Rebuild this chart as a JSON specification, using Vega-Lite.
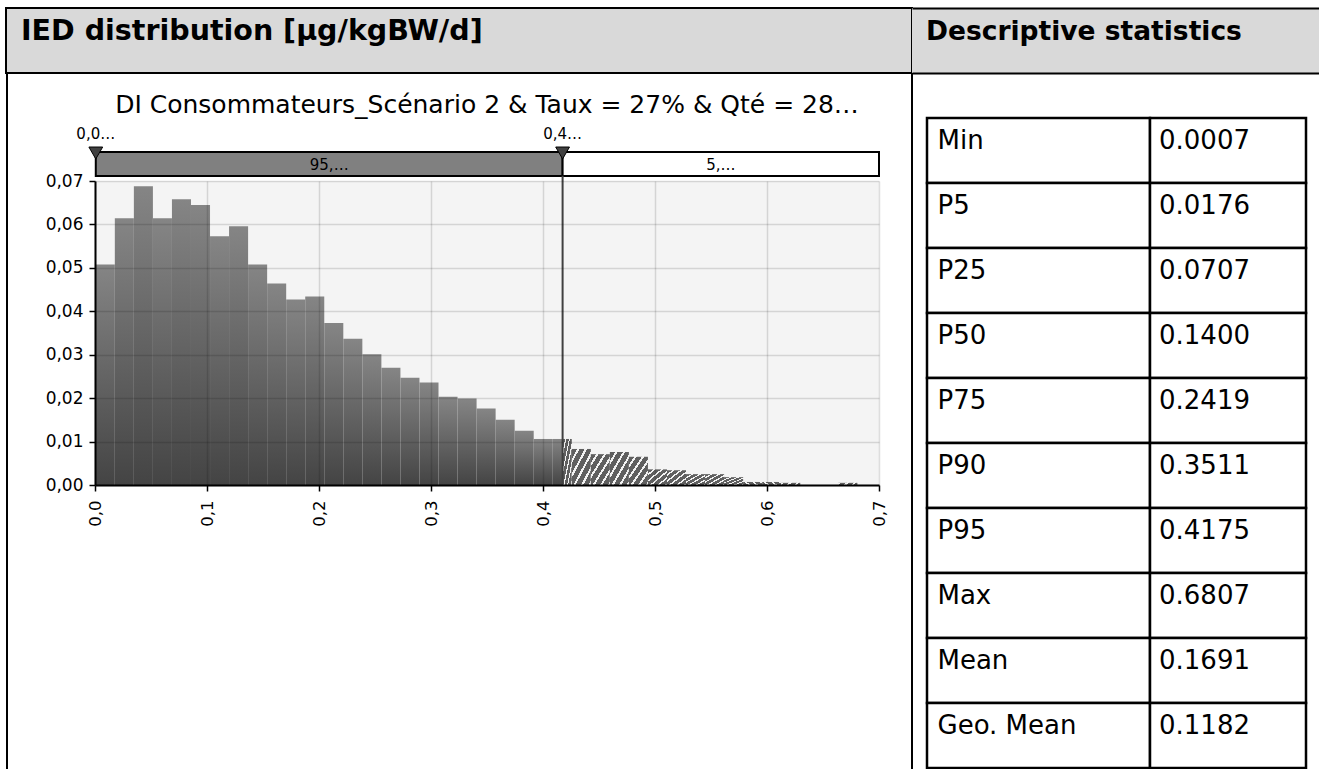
{
  "$schema": "https://vega.github.io/schema/vega-lite/v6.json",
  "padding": {"left": 5, "top": 7, "right": 0, "bottom": 0},
  "background": "white",
  "bounds": "flush",
  "spacing": 0,
  "config": {
    "font": "DejaVu Sans",
    "view": {"stroke": null},
    "concat": {"spacing": 0},
    "text": {"font": "DejaVu Sans", "color": "black"},
    "title": {"font": "DejaVu Sans"}
  },
  "datasets": {
    "bins": [
      {"x0": 0.0007, "x1": 0.0177, "freq": 0.0508, "part": "in"},
      {"x0": 0.0177, "x1": 0.0347, "freq": 0.0614, "part": "in"},
      {"x0": 0.0347, "x1": 0.0517, "freq": 0.0688, "part": "in"},
      {"x0": 0.0517, "x1": 0.0687, "freq": 0.0614, "part": "in"},
      {"x0": 0.0687, "x1": 0.0857, "freq": 0.0658, "part": "in"},
      {"x0": 0.0857, "x1": 0.1027, "freq": 0.0645, "part": "in"},
      {"x0": 0.1027, "x1": 0.1197, "freq": 0.0573, "part": "in"},
      {"x0": 0.1197, "x1": 0.1367, "freq": 0.0596, "part": "in"},
      {"x0": 0.1367, "x1": 0.1537, "freq": 0.0508, "part": "in"},
      {"x0": 0.1537, "x1": 0.1707, "freq": 0.0464, "part": "in"},
      {"x0": 0.1707, "x1": 0.1877, "freq": 0.0427, "part": "in"},
      {"x0": 0.1877, "x1": 0.2047, "freq": 0.0434, "part": "in"},
      {"x0": 0.2047, "x1": 0.2217, "freq": 0.0373, "part": "in"},
      {"x0": 0.2217, "x1": 0.2387, "freq": 0.0337, "part": "in"},
      {"x0": 0.2387, "x1": 0.2557, "freq": 0.0301, "part": "in"},
      {"x0": 0.2557, "x1": 0.2727, "freq": 0.0270, "part": "in"},
      {"x0": 0.2727, "x1": 0.2897, "freq": 0.0247, "part": "in"},
      {"x0": 0.2897, "x1": 0.3067, "freq": 0.0236, "part": "in"},
      {"x0": 0.3067, "x1": 0.3237, "freq": 0.0203, "part": "in"},
      {"x0": 0.3237, "x1": 0.3407, "freq": 0.0199, "part": "in"},
      {"x0": 0.3407, "x1": 0.3577, "freq": 0.0176, "part": "in"},
      {"x0": 0.3577, "x1": 0.3747, "freq": 0.0150, "part": "in"},
      {"x0": 0.3747, "x1": 0.3917, "freq": 0.0125, "part": "in"},
      {"x0": 0.3917, "x1": 0.4087, "freq": 0.0106, "part": "in"},
      {"x0": 0.4087, "x1": 0.4175, "freq": 0.0106, "part": "in"},
      {"x0": 0.4175, "x1": 0.4257, "freq": 0.0106, "part": "out"},
      {"x0": 0.4257, "x1": 0.4427, "freq": 0.0083, "part": "out"},
      {"x0": 0.4427, "x1": 0.4597, "freq": 0.0071, "part": "out"},
      {"x0": 0.4597, "x1": 0.4767, "freq": 0.0076, "part": "out"},
      {"x0": 0.4767, "x1": 0.4937, "freq": 0.0065, "part": "out"},
      {"x0": 0.4937, "x1": 0.5107, "freq": 0.0036, "part": "out"},
      {"x0": 0.5107, "x1": 0.5277, "freq": 0.0034, "part": "out"},
      {"x0": 0.5277, "x1": 0.5447, "freq": 0.0025, "part": "out"},
      {"x0": 0.5447, "x1": 0.5617, "freq": 0.0025, "part": "out"},
      {"x0": 0.5617, "x1": 0.5787, "freq": 0.0018, "part": "out"},
      {"x0": 0.5787, "x1": 0.5957, "freq": 0.0007, "part": "out"},
      {"x0": 0.5957, "x1": 0.6127, "freq": 0.0007, "part": "out"},
      {"x0": 0.6127, "x1": 0.6297, "freq": 0.0005, "part": "out"},
      {"x0": 0.6297, "x1": 0.6467, "freq": 0, "part": "out"},
      {"x0": 0.6467, "x1": 0.6637, "freq": 0, "part": "out"},
      {"x0": 0.6637, "x1": 0.6807, "freq": 0.0005, "part": "out"}
    ],
    "stats": [
      {"stat": "Min", "value": "0.0007"},
      {"stat": "P5", "value": "0.0176"},
      {"stat": "P25", "value": "0.0707"},
      {"stat": "P50", "value": "0.1400"},
      {"stat": "P75", "value": "0.2419"},
      {"stat": "P90", "value": "0.3511"},
      {"stat": "P95", "value": "0.4175"},
      {"stat": "Max", "value": "0.6807"},
      {"stat": "Mean", "value": "0.1691"},
      {"stat": "Geo. Mean", "value": "0.1182"}
    ],
    "bands": [
      {"start": 0.0007, "end": 0.4175, "lab": "95,…"},
      {"start": 0.4175, "end": 0.7, "lab": "5,…"}
    ],
    "markers": [
      {"v": 0.0007, "lab": "0,0…"},
      {"v": 0.4175, "lab": "0,4…"}
    ]
  },
  "vconcat": [
    {
      "spacing": 0,
      "bounds": "flush",
      "hconcat": [
        {
          "width": 906, "height": 65,
          "view": {"fill": "#d9d9d9", "stroke": "black", "strokeWidth": 2},
          "data": {"values": [{"h": "IED distribution [µg/kgBW/d]"}]},
          "mark": {"type": "text", "align": "left", "baseline": "alphabetic", "dx": -438, "dy": -1, "fontSize": 28.5, "fontWeight": "bold"},
          "encoding": {"text": {"field": "h"}}
        },
        {
          "width": 407, "height": 65,
          "view": {"fill": "#d9d9d9", "stroke": null},
          "data": {"values": [{"h": "Descriptive statistics"}]},
          "mark": {"type": "text", "align": "left", "baseline": "alphabetic", "dx": -189.5, "dy": -1, "fontSize": 26.5, "fontWeight": "bold"},
          "encoding": {
            "text": {"field": "h"},
            "y": {"datum": 0.5, "type": "quantitative", "scale": {"domain": [0, 1], "nice": false, "zero": false},
              "axis": {"values": [0, 1], "grid": true, "gridColor": "black", "gridWidth": 2, "gridOpacity": 1, "domain": false, "ticks": false, "labels": false, "title": null}}
          }
        }
      ]
    },
    {"width": 10, "height": 65, "data": {"values": []}, "mark": "text", "encoding": {}},
    {
      "spacing": 0,
      "bounds": "flush",
      "hconcat": [
        {"width": 2, "height": 697, "view": {"fill": "black", "stroke": null}, "data": {"values": []}, "mark": "text", "encoding": {}},
        {"width": 87, "height": 1, "data": {"values": []}, "mark": "text", "encoding": {}},
        {
          "spacing": 0,
          "bounds": "flush",
          "vconcat": [
            {"width": 784, "height": 79, "data": {"values": []}, "mark": "text", "encoding": {}},
            {
              "width": 784, "height": 24,
              "title": {"text": "DI Consommateurs_Scénario 2 & Taux = 27% & Qté = 28…", "fontSize": 25, "fontWeight": "normal", "color": "black", "anchor": "middle", "baseline": "alphabetic", "offset": -11},
              "layer": [
                {
                  "data": {"name": "bands"},
                  "mark": {"type": "rect", "stroke": "black", "strokeWidth": 2},
                  "encoding": {
                    "x": {"field": "start", "type": "quantitative", "scale": {"domain": [0, 0.7], "nice": false, "zero": false}, "axis": null},
                    "x2": {"field": "end"},
                    "color": {"field": "lab", "type": "nominal", "scale": {"domain": ["95,…", "5,…"], "range": ["#808080", "#ffffff"]}, "legend": null}
                  }
                },
                {
                  "data": {"name": "bands"},
                  "transform": [{"fold": ["start", "end"], "as": ["k", "v"]}],
                  "mark": {"type": "text", "fontSize": 15, "baseline": "middle", "dy": 1},
                  "encoding": {
                    "x": {"field": "v", "aggregate": "mean", "type": "quantitative"},
                    "text": {"field": "lab"}
                  }
                },
                {
                  "data": {"name": "markers"},
                  "mark": {"type": "point", "shape": "triangle-down", "filled": true, "color": "#404040", "stroke": "black", "strokeWidth": 1, "size": 190, "yOffset": -11, "opacity": 1},
                  "encoding": {"x": {"field": "v", "type": "quantitative"}}
                },
                {
                  "data": {"name": "markers"},
                  "mark": {"type": "text", "fontSize": 15, "baseline": "middle", "dy": -30},
                  "encoding": {"x": {"field": "v", "type": "quantitative"}, "text": {"field": "lab"}}
                }
              ]
            },
            {"width": 784, "height": 5, "data": {"values": []}, "mark": "text", "encoding": {}},
            {
              "width": 784, "height": 304,
              "view": {"fill": "#f4f4f4", "stroke": null},
              "layer": [
                {
                  "data": {"name": "bins"},
                  "transform": [{"filter": "datum.part == 'in'"}],
                  "mark": {"type": "rect", "color": {"gradient": "linear", "x1": 0, "y1": 0, "x2": 0, "y2": 1, "stops": [{"offset": 0, "color": "#858585"}, {"offset": 1, "color": "#444444"}]}},
                  "encoding": {
                    "x": {"field": "x0", "type": "quantitative", "scale": {"domain": [0, 0.7], "nice": false, "zero": false},
                      "axis": {"values": [0, 0.1, 0.2, 0.3, 0.4, 0.5, 0.6, 0.7], "labelExpr": "replace(format(datum.value, '.1f'), '.', ',')", "labelAngle": -90, "labelFlush": false, "labelOverlap": false, "title": null, "grid": true, "gridColor": "black", "gridOpacity": 0.13, "gridWidth": 1.5, "domainColor": "black", "domainWidth": 2, "tickColor": "black", "tickWidth": 1.5, "tickSize": 6, "labelFontSize": 16.5, "labelPadding": 9, "labelColor": "black", "labelFont": "DejaVu Sans", "zindex": 1}},
                    "x2": {"field": "x1"},
                    "y": {"field": "freq", "type": "quantitative", "scale": {"domain": [0, 0.07], "nice": false},
                      "axis": {"values": [0, 0.01, 0.02, 0.03, 0.04, 0.05, 0.06, 0.07], "labelExpr": "replace(format(datum.value, '.2f'), '.', ',')", "labelFlush": false, "labelOverlap": false, "title": null, "grid": true, "gridColor": "black", "gridOpacity": 0.13, "gridWidth": 1.5, "domainColor": "black", "domainWidth": 2, "tickColor": "black", "tickWidth": 1.5, "tickSize": 6, "labelFontSize": 17, "labelPadding": 6, "labelColor": "black", "labelFont": "DejaVu Sans", "zindex": 1}},
                    "y2": {"datum": 0}
                  }
                },
                {
                  "data": {"name": "bins"},
                  "transform": [{"filter": "datum.part == 'out'"}],
                  "mark": {"type": "rect", "color": {"gradient": "linear", "x1": 0, "y1": 0, "x2": 1, "y2": 1, "stops": [
                    {"offset": 0, "color": "#5f5f5f"}, {"offset": 0.14, "color": "#5f5f5f"}, {"offset": 0.14, "color": "#f2f2f2"}, {"offset": 0.2, "color": "#f2f2f2"},
                    {"offset": 0.2, "color": "#5f5f5f"}, {"offset": 0.34, "color": "#5f5f5f"}, {"offset": 0.34, "color": "#f2f2f2"}, {"offset": 0.4, "color": "#f2f2f2"},
                    {"offset": 0.4, "color": "#5f5f5f"}, {"offset": 0.54, "color": "#5f5f5f"}, {"offset": 0.54, "color": "#f2f2f2"}, {"offset": 0.6, "color": "#f2f2f2"},
                    {"offset": 0.6, "color": "#5f5f5f"}, {"offset": 0.74, "color": "#5f5f5f"}, {"offset": 0.74, "color": "#f2f2f2"}, {"offset": 0.8, "color": "#f2f2f2"},
                    {"offset": 0.8, "color": "#5f5f5f"}, {"offset": 0.94, "color": "#5f5f5f"}, {"offset": 0.94, "color": "#f2f2f2"}, {"offset": 1, "color": "#f2f2f2"}
                  ]}},
                  "encoding": {
                    "x": {"field": "x0", "type": "quantitative"},
                    "x2": {"field": "x1"},
                    "y": {"field": "freq", "type": "quantitative"},
                    "y2": {"datum": 0}
                  }
                },
                {
                  "data": {"values": [{"p95": 0.4175}]},
                  "mark": {"type": "rule", "color": "#404040", "strokeWidth": 2},
                  "encoding": {
                    "x": {"field": "p95", "type": "quantitative"},
                    "y": {"datum": 0},
                    "y2": {"datum": 0.0712}
                  }
                }
              ]
            }
          ]
        },
        {"width": 784, "height": 1, "data": {"values": []}, "mark": "text", "encoding": {}},
        {"width": 32, "height": 1, "data": {"values": []}, "mark": "text", "encoding": {}},
        {"width": 2, "height": 697, "view": {"fill": "black", "stroke": null}, "data": {"values": []}, "mark": "text", "encoding": {}},
        {"width": 14, "height": 1, "data": {"values": []}, "mark": "text", "encoding": {}},
        {
          "spacing": 0,
          "bounds": "flush",
          "vconcat": [
            {"width": 379, "height": 45, "data": {"values": []}, "mark": "text", "encoding": {}},
            {
              "spacing": 0,
              "bounds": "flush",
              "hconcat": [
                {
                  "width": 223, "height": 650,
                  "data": {"name": "stats"},
                  "encoding": {"y": {"field": "stat", "type": "nominal", "sort": null, "axis": null, "scale": {"paddingInner": 0, "paddingOuter": 0}}},
                  "layer": [
                    {"mark": {"type": "rect", "fill": "white", "stroke": "black", "strokeWidth": 2.5}},
                    {"mark": {"type": "text", "align": "left", "baseline": "alphabetic", "dx": -101, "dy": -2, "fontSize": 26}, "encoding": {"text": {"field": "stat"}}}
                  ]
                },
                {
                  "width": 156, "height": 650,
                  "data": {"name": "stats"},
                  "encoding": {"y": {"field": "stat", "type": "nominal", "sort": null, "axis": null, "scale": {"paddingInner": 0, "paddingOuter": 0}}},
                  "layer": [
                    {"mark": {"type": "rect", "fill": "white", "stroke": "black", "strokeWidth": 2.5}},
                    {"mark": {"type": "text", "align": "left", "baseline": "alphabetic", "dx": -69, "dy": -2, "fontSize": 26}, "encoding": {"text": {"field": "value"}}}
                  ]
                }
              ]
            }
          ]
        }
      ]
    }
  ]
}
